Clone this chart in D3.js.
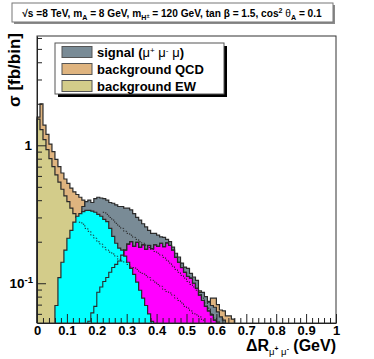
<!DOCTYPE html>
<html>
<head>
<meta charset="utf-8">
<script src="https://cdn.jsdelivr.net/npm/d3@7"></script>
<style>
  body { margin: 0; background: #fff; }
  svg { display: block; }
  text { font-family: "Liberation Sans", Arial, sans-serif; font-weight: bold; fill: #000; }
</style>
</head>
<body>
<div id="chart"></div>
<script>
// svg container
var svgWidth = 374;
var svgHeight = 359;

var margin = { top: 36, right: 38, bottom: 36, left: 37 };

var chartWidth = svgWidth - margin.left - margin.right;
var chartHeight = svgHeight - margin.top - margin.bottom;

// histogram data, bin width 0.01, each series starts at its own bin
var binWidth = 0.01;

var ewStart = 0;
var ewValues = [1.55, 1.3, 1.1, 0.93, 0.8, 0.7, 0.61, 0.54, 0.48, 0.43, 0.39, 0.35, 0.32, 0.3, 0.28, 0.26];

var qcdStart = 0;
var qcdValues = [1.6, 2.0, 1.4, 1.2, 1.02, 0.9, 0.79, 0.7, 0.63, 0.57, 0.53, 0.49, 0.46, 0.44, 0.42, 0.4,
  0.36, 0.34, 0.33, 0.32, 0.31, 0.3, 0.29, 0.28, 0.27, 0.26, 0.25, 0.24, 0.23, 0.22, 0.21, 0.2,
  0.19, 0.18, 0.17, 0.165, 0.16, 0.155, 0.15, 0.145, 0.14, 0.135, 0.13, 0.125, 0.12, 0.115, 0.11, 0.105,
  0.1, 0.095, 0.09, 0.086, 0.082, 0.09, 0.088, 0.071, 0.068, 0.074, 0.078, 0.078, 0.07, 0.064, 0.063, 0.058,
  0.058, 0.055];

var signalStart = 14;
var signalValues = [0.3, 0.36, 0.39, 0.4, 0.385, 0.41, 0.42, 0.415, 0.41, 0.4, 0.385, 0.38, 0.37, 0.36,
  0.36, 0.35, 0.35, 0.34, 0.32, 0.3, 0.287, 0.27, 0.256, 0.242, 0.23, 0.23, 0.223, 0.217, 0.215, 0.208,
  0.2, 0.183, 0.165, 0.155, 0.14, 0.131, 0.128, 0.118, 0.111, 0.105, 0.086, 0.086, 0.08, 0.073, 0.069,
  0.067, 0.062, 0.057, 0.054];

var cyanStart = 6;
var cyanValues = [0.069, 0.11, 0.142, 0.174, 0.212, 0.242, 0.277, 0.306, 0.32, 0.33, 0.338, 0.338, 0.333,
  0.327, 0.316, 0.306, 0.29, 0.28, 0.25, 0.219, 0.195, 0.18, 0.174, 0.157, 0.142, 0.128, 0.116, 0.102,
  0.089, 0.078, 0.069, 0.06, 0.053];

var magentaStart = 17;
var magentaValues = [0.053, 0.061, 0.068, 0.086, 0.094, 0.103, 0.11, 0.12, 0.13, 0.137, 0.145, 0.16, 0.174,
  0.192, 0.2, 0.185, 0.198, 0.182, 0.19, 0.176, 0.188, 0.178, 0.19, 0.185, 0.195, 0.184, 0.196, 0.188,
  0.174, 0.154, 0.142, 0.13, 0.12, 0.112, 0.109, 0.1, 0.092, 0.082, 0.075, 0.068, 0.063, 0.059, 0.054, 0.052];

var dotUpperStart = 22;
var dotUpperValues = [0.327, 0.316, 0.3, 0.287, 0.272, 0.259, 0.25, 0.238, 0.23, 0.223, 0.215, 0.208, 0.2,
  0.195, 0.189, 0.182, 0.176, 0.17, 0.165, 0.16, 0.154, 0.147, 0.14, 0.133, 0.126, 0.12, 0.114, 0.109,
  0.103, 0.098, 0.094, 0.089, 0.083, 0.078, 0.072, 0.066, 0.06, 0.056, 0.053];

var dotLowerStart = 14;
var dotLowerValues = [0.277, 0.268, 0.25, 0.238, 0.223, 0.212, 0.2, 0.192, 0.182, 0.174, 0.168, 0.163, 0.157,
  0.149, 0.145, 0.142, 0.137, 0.131, 0.13, 0.126, 0.12, 0.118, 0.114, 0.11, 0.105, 0.102, 0.098, 0.095,
  0.09, 0.087, 0.085, 0.082, 0.078, 0.075, 0.072, 0.068, 0.066, 0.063, 0.06, 0.059, 0.057, 0.054];

var xMajorTicks = [0, 0.1, 0.2, 0.3, 0.4, 0.5, 0.6, 0.7, 0.8, 0.9, 1];
var xTickLabels = ["0", "0.1", "0.2", "0.3", "0.4", "0.5", "0.6", "0.7", "0.8", "0.9", "1"];
var yMajorTicks = [0.1, 1];
var yMinorTicks = [0.06, 0.07, 0.08, 0.09, 0.2, 0.3, 0.4, 0.5, 0.6, 0.7, 0.8, 0.9, 2, 3, 4, 5, 6];
var yDomain = [0.0515, 6.2];

var legendLabels = ["signal", "background QCD", "background EW"];
var colors = {
  signal: "#798b96",
  qcd: "#dfb47f",
  ew: "#d3cc8a",
  cyan: "#00ffff",
  magenta: "#ff00ff"
};

// create svg container
var svg = d3.select("#chart")
  .append("svg")
  .attr("width", svgWidth)
  .attr("height", svgHeight);

var chartGroup = svg.append("g")
  .attr("transform", `translate(${margin.left}, ${margin.top})`);

// scales
var xScale = d3.scaleLinear().domain([0, 1]).range([0, chartWidth]);
var yScale = d3.scaleLog().domain(yDomain).range([chartHeight, 0]).clamp(true);

// step outline of a histogram, closed to the x axis at both ends
function stepPoints(start, vals) {
  var pts = [[xScale(start * binWidth), chartHeight]];
  vals.forEach(function(v, i) {
    var yy = yScale(v);
    pts.push([xScale((start + i) * binWidth), yy]);
    pts.push([xScale((start + i + 1) * binWidth), yy]);
  });
  pts.push([xScale((start + vals.length) * binWidth), chartHeight]);
  return pts;
}

var line = d3.line();

function drawHist(start, vals, fill) {
  var pts = stepPoints(start, vals);
  chartGroup.append("path")
    .attr("d", line(pts) + "Z")
    .attr("fill", fill)
    .attr("stroke", "none");
  chartGroup.append("path")
    .attr("d", line(pts))
    .attr("fill", "none")
    .attr("stroke", "#2a2a2a")
    .attr("stroke-width", 1.2);
}

// draw order matters: later fills cover earlier ones
drawHist(qcdStart, qcdValues, colors.qcd);
drawHist(signalStart, signalValues, colors.signal);
drawHist(ewStart, ewValues, colors.ew);
drawHist(magentaStart, magentaValues, colors.magenta);
drawHist(cyanStart, cyanValues, colors.cyan);

// magenta outline again on top of cyan
chartGroup.append("path")
  .attr("d", line(stepPoints(magentaStart, magentaValues)))
  .attr("fill", "none")
  .attr("stroke", "#2a2a2a")
  .attr("stroke-width", 1.1);

// dotted lines
[[dotUpperStart, dotUpperValues], [dotLowerStart, dotLowerValues]].forEach(function(d) {
  var pts = stepPoints(d[0], d[1]).slice(1, -1);
  chartGroup.append("path")
    .attr("d", line(pts))
    .attr("fill", "none")
    .attr("stroke", "#222")
    .attr("stroke-width", 1)
    .attr("stroke-dasharray", "1.3,1.7");
});

// frame
chartGroup.append("rect")
  .attr("x", 0).attr("y", 0)
  .attr("width", chartWidth).attr("height", chartHeight)
  .attr("fill", "none")
  .attr("stroke", "#333")
  .attr("stroke-width", 1);

// x axis
var xAxis = d3.axisBottom(xScale)
  .tickValues(xMajorTicks)
  .tickSizeInner(-9).tickSizeOuter(0)
  .tickPadding(3)
  .tickFormat(function(d, i) { return xTickLabels[i]; });

var xAxisG = chartGroup.append("g")
  .attr("transform", `translate(0, ${chartHeight})`)
  .call(xAxis);

var xMinor = d3.range(0, 50).map(function(i) { return i * 0.02; }).filter(function(v) { return Math.round(v * 100) % 10 !== 0; });
chartGroup.append("g")
  .attr("transform", `translate(0, ${chartHeight})`)
  .call(d3.axisBottom(xScale).tickValues(xMinor).tickSizeInner(-5).tickSizeOuter(0).tickFormat(""))
  .call(function(g) { g.select(".domain").remove(); });

// y axis
var yAxis = d3.axisLeft(yScale)
  .tickValues(yMajorTicks)
  .tickSizeInner(-9).tickSizeOuter(0)
  .tickFormat("");

chartGroup.append("g").call(yAxis);

chartGroup.append("g")
  .call(d3.axisLeft(yScale).tickValues(yMinorTicks).tickSizeInner(-5).tickSizeOuter(0).tickFormat(""))
  .call(function(g) { g.select(".domain").remove(); });

chartGroup.selectAll(".domain").attr("stroke", "#222");
chartGroup.selectAll(".tick line").attr("stroke", "#222");

xAxisG.selectAll("text")
  .style("font-family", '"Liberation Sans", Arial, sans-serif')
  .style("font-weight", "bold")
  .style("font-size", "13px")
  .attr("fill", "#000");

// y tick labels
chartGroup.append("text")
  .attr("x", -5).attr("y", yScale(1) + 5)
  .attr("text-anchor", "end")
  .style("font-size", "13.5px")
  .text("1");

var tenLabel = chartGroup.append("text")
  .attr("x", -4).attr("y", yScale(0.1) + 5)
  .attr("text-anchor", "end")
  .style("font-size", "13.5px");
tenLabel.append("tspan").text("10");
tenLabel.append("tspan").attr("dy", -5).style("font-size", "9.5px").text("-1");

// rich text helper: parts = [text, shift, relative size, weight]
function richText(sel, parts, base) {
  sel.selectAll("tspan").remove();
  var prev = 0;
  parts.forEach(function(p) {
    var t = sel.append("tspan").text(p[0]).attr("dy", (p[1] - prev) * base / 10);
    t.style("font-size", (p[2] * base) + "px");
    if (p[3]) t.style("font-weight", p[3]);
    prev = p[1];
  });
}

// x axis title
var xTitle = svg.append("text")
  .attr("x", margin.left + chartWidth)
  .attr("y", 351)
  .attr("text-anchor", "end");
richText(xTitle, [
  ["\u0394R", 0, 1],
  ["\u03bc", 2.6, 0.6, "normal"],
  ["+", 0.3, 0.42],
  [" \u03bc", 2.6, 0.6, "normal"],
  ["-", 0.3, 0.42],
  [" (GeV)", 0, 1]
], 16);

// y axis title
svg.append("text")
  .attr("transform", "translate(20, 33) rotate(-90)")
  .attr("text-anchor", "end")
  .style("font-size", "17px")
  .text("\u03c3 [fb/bin]");

// title box
svg.append("rect")
  .attr("x", 14).attr("y", 5).attr("width", 321).attr("height", 19)
  .attr("fill", "#8a8a8a");
svg.append("rect")
  .attr("x", 12).attr("y", 3).attr("width", 321).attr("height", 19)
  .attr("fill", "#fff").attr("stroke", "#777").attr("stroke-width", 1);

var titleParts = [
  ["\u221as =8 TeV, m", 0, 1],
  ["A", 3, 0.7],
  [" = 8 GeV, m", 0, 1],
  ["H", 3, 0.7],
  ["\u00b1", 1, 0.55],
  [" = 120 GeV, tan \u03b2 = 1.5, cos", 0, 1],
  ["2", -4, 0.7],
  [" \u03b8", 0, 1, "normal"],
  ["A", 3, 0.7],
  [" = 0.1", 0, 1]
];
var title = svg.append("text")
  .attr("x", 172).attr("y", 17)
  .attr("text-anchor", "middle");
richText(title, titleParts, 10);
// fit the title into the box width
var tw = title.node().getComputedTextLength();
richText(title, titleParts, 10 * 300 / tw);

// legend
var legend = svg.append("g");
legend.append("rect")
  .attr("x", 58).attr("y", 46).attr("width", 169).attr("height", 51)
  .attr("fill", "#000");
legend.append("rect")
  .attr("x", 55).attr("y", 43).attr("width", 169).attr("height", 51)
  .attr("fill", "#fff").attr("stroke", "#555").attr("stroke-width", 1);

var legendColors = [colors.signal, colors.qcd, colors.ew];
legendLabels.forEach(function(label, i) {
  legend.append("rect")
    .attr("x", 62).attr("y", 46.5 + i * 17)
    .attr("width", 30).attr("height", 11)
    .attr("fill", legendColors[i])
    .attr("stroke", "#555").attr("stroke-width", 1);
  var t = legend.append("text")
    .attr("x", 97).attr("y", 56.5 + i * 17)
    .style("font-size", "13px");
  if (i === 0) {
    richText(t, [
      ["signal (", 0, 1],
      ["\u03bc", 0, 1, "normal"],
      ["+", -3, 0.62, "normal"],
      [" \u03bc", 0, 1, "normal"],
      ["-", -3, 0.62, "normal"],
      [" \u03bc", 0, 1, "normal"],
      [")", 0, 1]
    ], 13);
  } else {
    t.text(label);
  }
});
</script>
</body>
</html>
